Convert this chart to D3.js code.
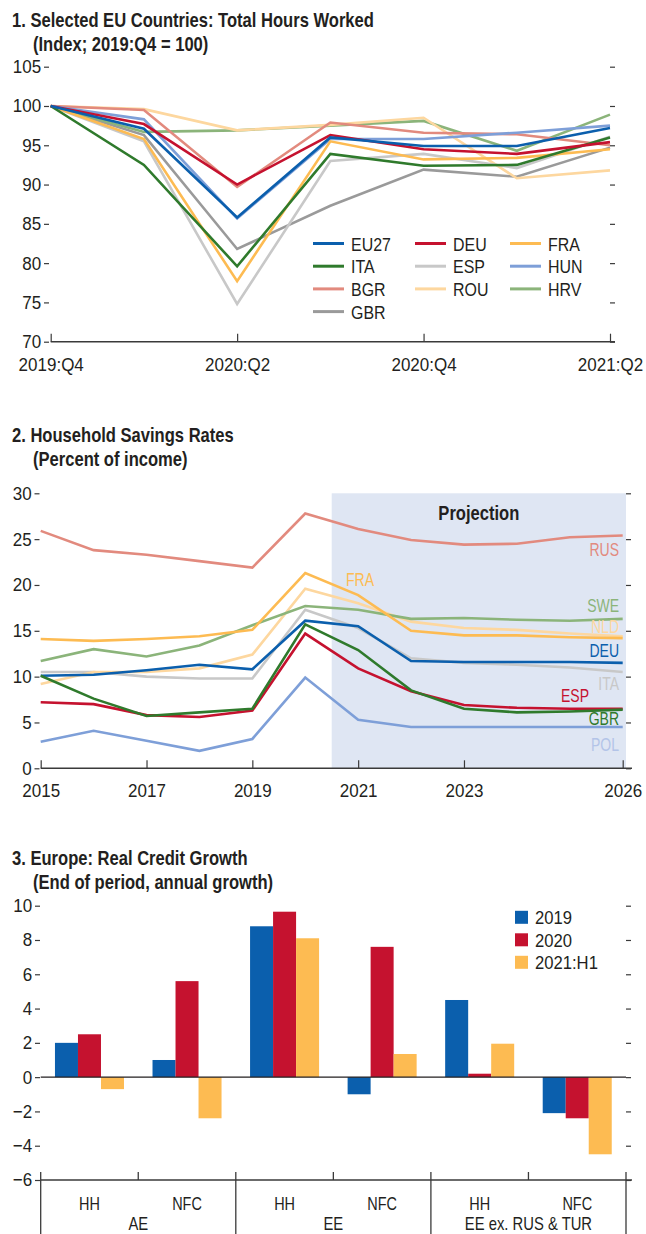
<!DOCTYPE html>
<html>
<head>
<meta charset="utf-8">
<script src="https://cdnjs.cloudflare.com/ajax/libs/d3/7.8.5/d3.min.js"></script>
<style>
  body { margin: 0; background: #fff; }
  svg text { font-family: "Liberation Sans", Arial, sans-serif; fill: #231f20; }
</style>
</head>
<body>
<div id="chart-area"></div>
<script>
// ---- panel 1 data: total hours worked (index)
const quarters = ["2019:Q4", "2020:Q1", "2020:Q2", "2020:Q3", "2020:Q4", "2021:Q1", "2021:Q2"];
const quarterTicks = ["2019:Q4", "2020:Q2", "2020:Q4", "2021:Q2"];
const hoursTicks = [70, 75, 80, 85, 90, 95, 100, 105];
const hoursEU27 = [100, 97.1, 85.8, 96.0, 94.9, 94.9, 97.2];
const hoursDEU = [100, 97.7, 90.0, 96.3, 94.5, 93.9, 95.4];
const hoursFRA = [100, 95.8, 77.7, 95.5, 93.2, 93.4, 94.5];
const hoursITA = [100, 92.5, 79.6, 93.9, 92.4, 92.5, 96.0];
const hoursESP = [100, 95.5, 74.8, 93.0, 93.9, 92.1, 96.1];
const hoursHUN = [100, 98.3, 85.7, 95.8, 95.8, 96.6, 97.5];
const hoursBGR = [100, 99.5, 89.7, 97.9, 96.6, 96.4, 95.0];
const hoursROU = [100, 99.6, 96.9, 97.6, 98.5, 90.8, 91.8];
const hoursHRV = [100, 96.7, 96.9, 97.5, 98.1, 94.3, 98.9];
const hoursGBR = [100, 96.3, 81.8, 87.3, 91.9, 91.0, 94.7];

// ---- panel 2 data: household savings rates (percent of income)
const years = [2015, 2016, 2017, 2018, 2019, 2020, 2021, 2022, 2023, 2024, 2025, 2026];
const yearTicks = [2015, 2017, 2019, 2021, 2023, 2026];
const savingsTicks = [0, 5, 10, 15, 20, 25, 30];
const projectionStart = 2020.5;
const savRUS = [25.9, 23.8, 23.3, 22.6, 21.9, 27.8, 26.1, 24.9, 24.4, 24.5, 25.2, 25.4];
const savFRA = [14.1, 13.9, 14.1, 14.4, 15.1, 21.3, 18.9, 15.0, 14.5, 14.5, 14.3, 14.2];
const savNLD = [9.2, 10.5, 10.5, 10.9, 12.4, 19.6, 18.0, 16.0, 15.3, 15.1, 14.7, 14.4];
const savSWE = [11.7, 13.0, 12.2, 13.4, 15.6, 17.7, 17.3, 16.3, 16.4, 16.2, 16.1, 16.3];
const savDEU = [10.1, 10.2, 10.7, 11.3, 10.8, 16.1, 15.5, 11.7, 11.6, 11.6, 11.6, 11.5];
const savITA = [10.5, 10.5, 10.0, 9.8, 9.8, 17.3, 15.3, 12.0, 11.5, 11.3, 11.0, 10.5];
const savGBR = [10.1, 7.6, 5.7, 6.1, 6.5, 15.7, 12.9, 8.5, 6.5, 6.1, 6.2, 6.4];
const savESP = [7.2, 7.0, 5.8, 5.6, 6.3, 14.7, 10.9, 8.4, 6.9, 6.6, 6.5, 6.5];
const savPOL = [2.9, 4.1, 3.0, 1.9, 3.2, 9.9, 5.3, 4.5, 4.5, 4.5, 4.5, 4.5];

// ---- panel 3 data: real credit growth
const creditCats = ["AE HH", "AE NFC", "EE HH", "EE NFC", "EX HH", "EX NFC"];
const creditSubLabels = ["HH", "NFC", "HH", "NFC", "HH", "NFC"];
const creditGroups = ["AE", "EE", "EE ex. RUS & TUR"];
const creditSeries = ["2019", "2020", "2021:H1"];
const credit2019 = [2.0, 1.0, 8.8, -1.0, 4.5, -2.1];
const credit2020 = [2.5, 5.6, 9.65, 7.6, 0.2, -2.4];
const credit2021H1 = [-0.7, -2.4, 8.1, 1.35, 1.95, -4.5];
const creditTicks = [-6, -4, -2, 0, 2, 4, 6, 8, 10];

const colors = {
  blue: "#0b5fad",
  red: "#c5122f",
  orange: "#fdbb52",
  green: "#2f7a2c",
  gray: "#c8c8c8",
  lightBlue: "#7e9fd8",
  salmon: "#e28a7e",
  peach: "#fdd79f",
  lightGreen: "#8bb47a",
  darkGray: "#9a9a9a",
  axis: "#3a3a3a"
};

const svgWidth = 646, svgHeight = 1234;
const svg = d3.select("#chart-area")
  .append("svg")
    .attr("width", svgWidth)
    .attr("height", svgHeight);

const fmtMinus = d => (d < 0 ? "\u2212" + Math.abs(d) : d);

// condensed look: squeeze Liberation Sans horizontally
const SQ_LETTERS = 0.8, SQ_DIGITS = 0.92, SQ_TITLE = 0.85;

function addText(parent, str, x, y, opts) {
  const o = Object.assign({ size: 18.5, weight: 400, anchor: "start", sx: SQ_LETTERS }, opts);
  return parent.append("text")
    .text(str)
    .attr("transform", `translate(${x},${y}) scale(${o.sx},1)`)
    .attr("text-anchor", o.anchor)
    .attr("font-size", o.size)
    .attr("font-weight", o.weight);
}

function styleAxis(g, size, sx) {
  g.attr("font-family", null).attr("font-size", null);
  g.selectAll("line").attr("stroke", colors.axis).attr("stroke-width", 1.2);
  g.selectAll("text")
    .attr("font-size", size)
    .attr("transform", `scale(${sx},1)`);
}

function title(lines, y) {
  lines.forEach((t, i) => {
    addText(svg, t, i === 0 ? 12 : 33, y + i * 24, { size: 19.5, weight: 700, sx: SQ_TITLE });
  });
}

// y ticks on both sides (no labels on the right)
function yTicks(y, ticks, leftX, rightX) {
  const l = svg.append("g")
    .attr("transform", `translate(${leftX},0)`)
    .call(d3.axisLeft(y).tickValues(ticks).tickSize(5).tickPadding(3.5).tickFormat(fmtMinus));
  l.select(".domain").remove();
  styleAxis(l, 18.5, SQ_DIGITS);
  const r = svg.append("g")
    .attr("transform", `translate(${rightX},0)`)
    .call(d3.axisRight(y).tickValues(ticks).tickSize(5).tickFormat(""));
  r.select(".domain").remove();
  styleAxis(r, 18.5, 1);
}

// =================== Panel 1 ===================
title(["1. Selected EU Countries: Total Hours Worked", "(Index; 2019:Q4 = 100)"], 27);

const x1 = d3.scalePoint().domain(quarters).range([50.7, 610]);
const y1 = d3.scaleLinear().domain([70, 105]).range([341.7, 66.7]);

yTicks(y1, hoursTicks, 49, 610);

svg.append("line")
  .attr("x1", x1.range()[0]).attr("x2", 615)
  .attr("y1", y1(70)).attr("y2", y1(70))
  .attr("stroke", colors.axis).attr("stroke-width", 1.5);
const xAxis1 = svg.append("g")
  .attr("transform", `translate(0,${y1(70)})`)
  .call(d3.axisBottom(x1).tickValues(quarterTicks).tickSize(-8).tickPadding(16));
xAxis1.select(".domain").remove();
styleAxis(xAxis1, 18.5, SQ_DIGITS);

const hoursSeries = [
  { name: "GBR", values: hoursGBR, color: colors.darkGray },
  { name: "HRV", values: hoursHRV, color: colors.lightGreen },
  { name: "ROU", values: hoursROU, color: colors.peach },
  { name: "BGR", values: hoursBGR, color: colors.salmon },
  { name: "ESP", values: hoursESP, color: colors.gray },
  { name: "HUN", values: hoursHUN, color: colors.lightBlue },
  { name: "FRA", values: hoursFRA, color: colors.orange },
  { name: "ITA", values: hoursITA, color: colors.green },
  { name: "DEU", values: hoursDEU, color: colors.red },
  { name: "EU27", values: hoursEU27, color: colors.blue }
];
const line1 = d3.line()
  .x((d, i) => x1(quarters[i]))
  .y(d => y1(d));
svg.append("g").selectAll("path")
  .data(hoursSeries)
  .enter()
  .append("path")
    .attr("d", s => line1(s.values))
    .attr("fill", "none")
    .attr("stroke", s => s.color)
    .attr("stroke-width", 2.6);

// legend, row-major 3 columns
const legendOrder = ["EU27", "DEU", "FRA", "ITA", "ESP", "HUN", "BGR", "ROU", "HRV", "GBR"];
const legendCols = [313, 415, 510];
const legend1 = svg.append("g").selectAll("g")
  .data(legendOrder)
  .enter()
  .append("g")
    .attr("transform", (n, i) => `translate(${legendCols[i % 3]},${243.5 + Math.floor(i / 3) * 22.7})`);
legend1.append("line")
  .attr("x1", 0).attr("x2", 31)
  .attr("stroke", n => hoursSeries.find(s => s.name === n).color)
  .attr("stroke-width", 3);
legend1.each(function (n) {
  addText(d3.select(this), n, 38, 7, { size: 19, sx: 0.84 });
});

// =================== Panel 2 ===================
title(["2. Household Savings Rates", "(Percent of income)"], 442);

const x2 = d3.scaleLinear().domain([2015, 2026]).range([40.7, 622.7]);
const y2 = d3.scaleLinear().domain([0, 30]).range([768.3, 493.3]);
const plot2Right = 626;

svg.append("rect")
  .attr("x", x2(projectionStart))
  .attr("y", y2(30))
  .attr("width", plot2Right - x2(projectionStart))
  .attr("height", y2(0) - y2(30))
  .attr("fill", "#dfe6f3");
addText(svg, "Projection", (x2(projectionStart) + plot2Right) / 2, 520,
  { size: 19.5, weight: 700, anchor: "middle", sx: SQ_TITLE });

yTicks(y2, savingsTicks, 39.5, plot2Right);

svg.append("line")
  .attr("x1", x2(2015)).attr("x2", plot2Right + 6)
  .attr("y1", y2(0)).attr("y2", y2(0))
  .attr("stroke", colors.axis).attr("stroke-width", 1.5);
const xAxis2 = svg.append("g")
  .attr("transform", `translate(0,${y2(0)})`)
  .call(d3.axisBottom(x2).tickValues(yearTicks).tickFormat(d3.format("d")).tickSize(-8).tickPadding(16));
xAxis2.select(".domain").remove();
styleAxis(xAxis2, 18.5, SQ_DIGITS);

const savingsSeries = [
  { name: "RUS", values: savRUS, color: colors.salmon, label: [619, 556, "end"] },
  { name: "POL", values: savPOL, color: colors.lightBlue, label: [619, 751, "end"], labelColor: "#b3c4e8" },
  { name: "ITA", values: savITA, color: colors.gray, label: [619, 690, "end"] },
  { name: "NLD", values: savNLD, color: colors.peach, label: [619, 633, "end"] },
  { name: "SWE", values: savSWE, color: colors.lightGreen, label: [619, 612, "end"] },
  { name: "FRA", values: savFRA, color: colors.orange, label: [346, 586, "start"] },
  { name: "DEU", values: savDEU, color: colors.blue, label: [619, 657, "end"] },
  { name: "ESP", values: savESP, color: colors.red, label: [589, 702, "end"] },
  { name: "GBR", values: savGBR, color: colors.green, label: [619, 725, "end"] }
];
const line2 = d3.line()
  .x((d, i) => x2(years[i]))
  .y(d => y2(d));
svg.append("g").selectAll("path")
  .data(savingsSeries)
  .enter()
  .append("path")
    .attr("d", s => line2(s.values))
    .attr("fill", "none")
    .attr("stroke", s => s.color)
    .attr("stroke-width", 2.6);
const labels2 = svg.append("g");
savingsSeries.forEach(s => {
  addText(labels2, s.name, s.label[0], s.label[1], { size: 17.5, anchor: s.label[2], sx: 0.8 })
    .style("fill", s.labelColor || s.color);
});

// =================== Panel 3 ===================
title(["3. Europe: Real Credit Growth", "(End of period, annual growth)"], 865);

const x3 = d3.scaleBand().domain(creditCats).range([40.7, 626]);
const xInner = d3.scaleBand().domain(creditSeries).range([0, x3.bandwidth()]).paddingOuter(0.62);
const y3 = d3.scaleLinear().domain([-6, 10]).range([1180, 905.7]);
const seriesColor = { "2019": colors.blue, "2020": colors.red, "2021:H1": colors.orange };

yTicks(y3, creditTicks, 40, 626);

const barData = [];
creditCats.forEach((c, i) => {
  barData.push({ cat: c, s: "2019", v: credit2019[i] });
  barData.push({ cat: c, s: "2020", v: credit2020[i] });
  barData.push({ cat: c, s: "2021:H1", v: credit2021H1[i] });
});
svg.append("g").selectAll("rect")
  .data(barData)
  .enter()
  .append("rect")
    .attr("x", d => x3(d.cat) + xInner(d.s))
    .attr("width", xInner.bandwidth())
    .attr("y", d => y3(Math.max(0, d.v)))
    .attr("height", d => Math.abs(y3(d.v) - y3(0)))
    .attr("fill", d => seriesColor[d.s]);

// zero line
svg.append("line")
  .attr("x1", 40.7).attr("x2", 626)
  .attr("y1", y3(0)).attr("y2", y3(0))
  .attr("stroke", "#231f20").attr("stroke-width", 1.3);

// category axis
svg.append("line")
  .attr("x1", 40.7).attr("x2", 632)
  .attr("y1", y3(-6)).attr("y2", y3(-6))
  .attr("stroke", colors.axis).attr("stroke-width", 1.5);
creditCats.forEach((c, i) => {
  const left = x3(c);
  const isGroupStart = i % 2 === 0;
  svg.append("line")
    .attr("x1", left).attr("x2", left)
    .attr("y1", y3(-6) - 8).attr("y2", isGroupStart ? svgHeight : y3(-6))
    .attr("stroke", colors.axis).attr("stroke-width", 1.3);
  addText(svg, creditSubLabels[i], left + x3.bandwidth() / 2, 1210,
    { size: 18.5, anchor: "middle", sx: 0.78 });
});
svg.append("line")
  .attr("x1", 626).attr("x2", 626)
  .attr("y1", y3(-6) - 8).attr("y2", svgHeight)
  .attr("stroke", colors.axis).attr("stroke-width", 1.3);
creditGroups.forEach((g, i) => {
  addText(svg, g, x3(creditCats[i * 2]) + x3.bandwidth(), 1230,
    { size: 18.5, anchor: "middle", sx: 0.8 });
});

// legend
const legend3 = svg.append("g").selectAll("g")
  .data(creditSeries)
  .enter()
  .append("g")
    .attr("transform", (s, i) => `translate(515,${917.3 + i * 22.5})`);
legend3.append("rect")
  .attr("x", 0).attr("y", -6.5)
  .attr("width", 13).attr("height", 13)
  .attr("fill", s => seriesColor[s]);
legend3.each(function (s) {
  addText(d3.select(this), s, 20, 7, { size: 18.5, sx: 0.9 });
});
</script>
</body>
</html>
